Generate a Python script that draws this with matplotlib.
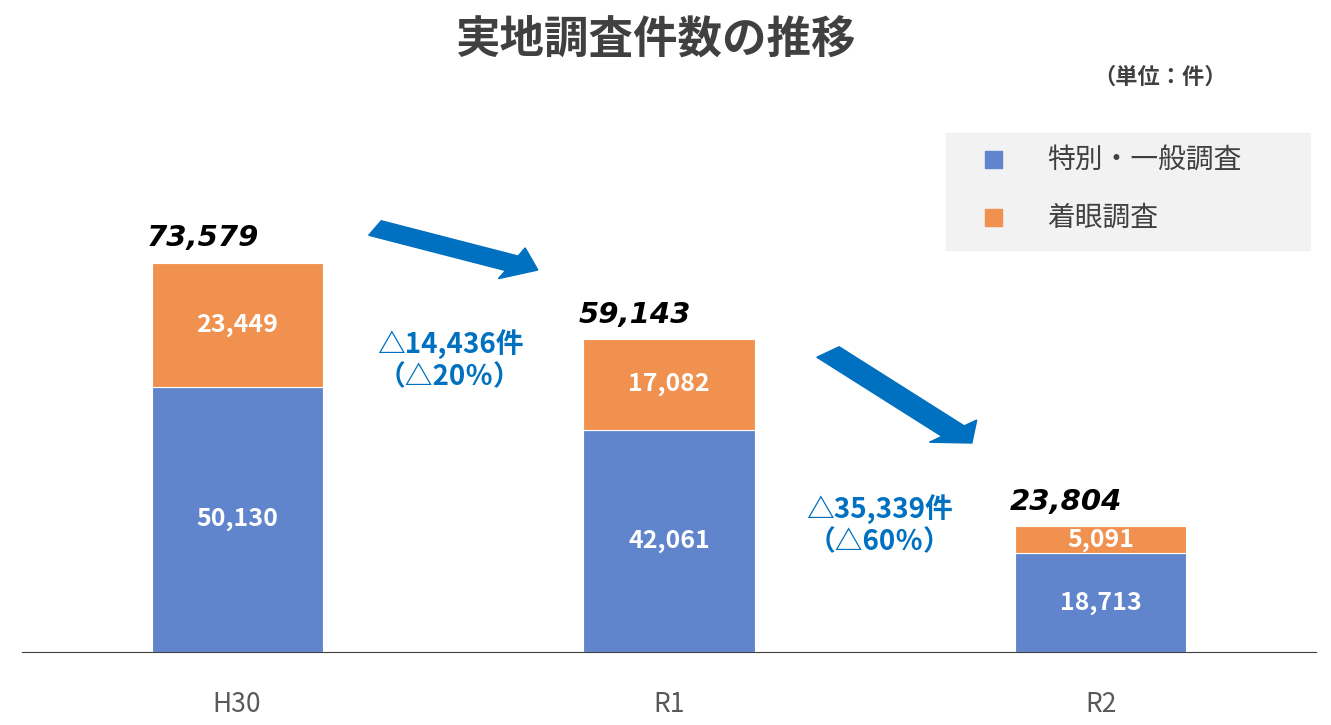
import matplotlib
matplotlib.use("Agg")
import matplotlib.pyplot as plt
from matplotlib.patches import FancyArrow, Rectangle

plt.rcParams['font.family'] = ['Noto Sans CJK JP', 'DejaVu Sans']

categories = ["H30", "R1", "R2"]
general = [50130, 42061, 18713]
focused = [23449, 17082, 5091]
totals = [73579, 59143, 23804]
series_names = ["特別・一般調査", "着眼調査"]
diff_labels = ["△14,436件\n（△20％）", "△35,339件\n（△60％）"]

W, H = 1331, 725
fig = plt.figure(figsize=(W/100, H/100), dpi=100)
px_per_unit = 389/73579
ax_h_px = 600
ax = fig.add_axes([22/W, 73/H, 1294/W, ax_h_px/H])
ax.set_ylim(0, ax_h_px/px_per_unit)
ax.set_xlim(-0.498, 2.498)
blue, orange = "#6085CC", "#F09150"
x = range(len(categories))
ax.bar(x, general, width=0.396, color=blue, edgecolor="white", linewidth=0.8)
ax.bar(x, focused, bottom=general, width=0.396, color=orange, edgecolor="white", linewidth=0.8)
for i in x:
    ax.text(i, general[i]/2, f"{general[i]:,}", ha="center", va="center", color="white", fontsize=18, fontweight="bold")
    ax.text(i, general[i]+focused[i]/2, f"{focused[i]:,}", ha="center", va="center", color="white", fontsize=18, fontweight="bold")
    ax.text(i-0.08, totals[i]+2000, f"{totals[i]:,}", ha="center", va="bottom", color="black", fontsize=21, fontweight="bold", style="italic", family="DejaVu Sans")
for s in ["top", "right", "left"]:
    ax.spines[s].set_visible(False)
ax.spines["bottom"].set_color("#404040")
ax.set_yticks([])
ax.set_xticks(list(x))
ax.set_xticklabels(categories, fontsize=19, color="#595959")
ax.tick_params(axis="x", length=0, pad=28)

# difference labels
for k, (fx, fy) in enumerate([(450, 360), (880, 525)]):
    fig.text(fx/W, 1-fy/H, diff_labels[k], ha="center", va="center", color="#0070C0", fontsize=20, fontweight="bold", linespacing=1.2)

# arrows
for (x0, y0, x1, y1) in [(375, 228, 538, 270), (828, 352, 972, 443)]:
    fig.patches.append(FancyArrow(x0/W, 1-y0/H, (x1-x0)/W*0.999, -(y1-y0)/H, width=16/H, head_width=34/H, head_length=24/W*1.2,
                                  length_includes_head=True, transform=fig.transFigure, color="#0070C0", figure=fig))

# legend box
fig.patches.append(Rectangle((946/W, 1-250/H), 364/W, 117/H, transform=fig.transFigure, color="#F2F2F2", figure=fig))
for k, (c, name) in enumerate(zip([blue, orange], series_names)):
    yy = 1-(160+58*k)/H
    fig.patches.append(Rectangle((985/W, yy-8/H), 17/W, 17/H, transform=fig.transFigure, color=c, figure=fig))
    fig.text(1047/W, yy, name, va="center", ha="left", fontsize=20, color="#404040")

fig.text(655/W, 1-40/H, "実地調査件数の推移", ha="center", va="center", fontsize=32, fontweight="bold", color="#404040")
fig.text(1160/W, 1-77/H, "（単位：件）", ha="center", va="center", fontsize=16, fontweight="bold", color="#404040")
fig.savefig("out.png", dpi=100, facecolor="white")
